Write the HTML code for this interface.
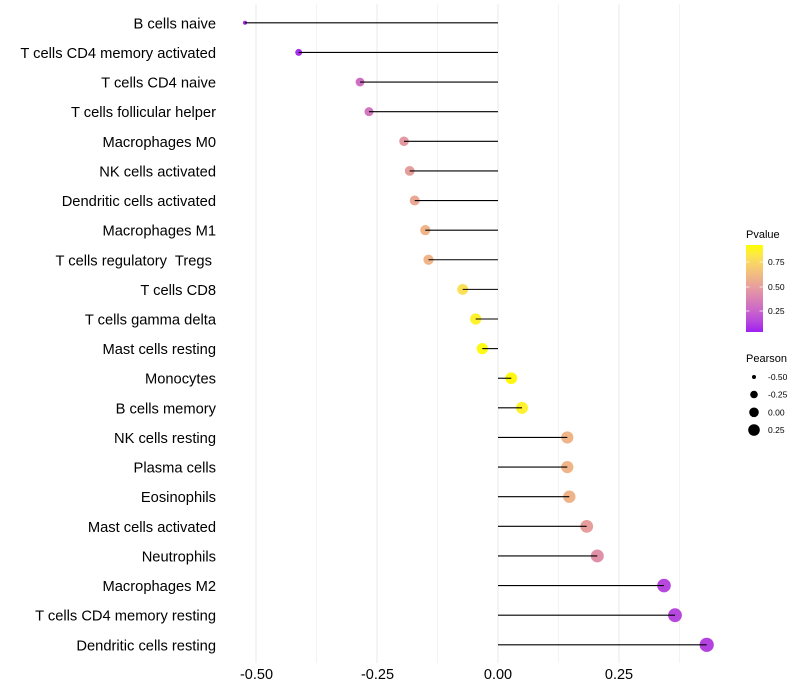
<!DOCTYPE html>
<html>
<head>
<meta charset="utf-8">
<style>
html,body{margin:0;padding:0;background:#fff;}
svg{display:block;}
text{font-family:"Liberation Sans",Arial,sans-serif;}
</style>
</head>
<body>
<svg width="800" height="700" viewBox="0 0 800 700" xmlns="http://www.w3.org/2000/svg">
<defs>
<linearGradient id="pg" x1="0" y1="1" x2="0" y2="0">
<stop offset="0" stop-color="#A020F0"/>
<stop offset="0.125" stop-color="#B748DD"/>
<stop offset="0.25" stop-color="#CA66C9"/>
<stop offset="0.375" stop-color="#D981B5"/>
<stop offset="0.5" stop-color="#E59BA0"/>
<stop offset="0.625" stop-color="#EFB489"/>
<stop offset="0.75" stop-color="#F6CD6F"/>
<stop offset="0.875" stop-color="#FDE54E"/>
<stop offset="1" stop-color="#FFFF00"/>
</linearGradient>
</defs>
<rect width="800" height="700" fill="#fff"/>
<!-- grid -->
<g stroke="#EBEBEB">
<line x1="316.5" y1="4" x2="316.5" y2="663" stroke-width="0.6"/>
<line x1="437.5" y1="4" x2="437.5" y2="663" stroke-width="0.6"/>
<line x1="558.5" y1="4" x2="558.5" y2="663" stroke-width="0.6"/>
<line x1="679.5" y1="4" x2="679.5" y2="663" stroke-width="0.6"/>
<line x1="256" y1="4" x2="256" y2="663" stroke-width="1.1"/>
<line x1="377" y1="4" x2="377" y2="663" stroke-width="1.1"/>
<line x1="498" y1="4" x2="498" y2="663" stroke-width="1.1"/>
<line x1="619" y1="4" x2="619" y2="663" stroke-width="1.1"/>
</g>
<!-- points -->
<g>
<circle cx="245" cy="22.8" r="2" fill="#A020F0"/>
<circle cx="298.7" cy="52.42" r="3.5" fill="#A92EE8"/>
<circle cx="360" cy="82.04" r="4.4" fill="#CF6FC2"/>
<circle cx="369" cy="111.66" r="4.5" fill="#D277BE"/>
<circle cx="404" cy="141.28" r="4.8" fill="#E398A2"/>
<circle cx="409.7" cy="170.9" r="4.9" fill="#E69E9C"/>
<circle cx="414.7" cy="200.52" r="5" fill="#EAA794"/>
<circle cx="425.3" cy="230.14" r="5.1" fill="#EFB589"/>
<circle cx="428.5" cy="259.76" r="5.1" fill="#EFB589"/>
<circle cx="462.7" cy="289.38" r="5.4" fill="#FBE055"/>
<circle cx="475.7" cy="319" r="5.6" fill="#FEF22E"/>
<circle cx="482.3" cy="348.62" r="5.6" fill="#FFFA14"/>
<circle cx="511.3" cy="378.24" r="5.9" fill="#FFF70E"/>
<circle cx="522" cy="407.86" r="6" fill="#FEF22E"/>
<circle cx="567.3" cy="437.48" r="6.1" fill="#EFB589"/>
<circle cx="567.3" cy="467.1" r="6.1" fill="#EFB589"/>
<circle cx="569.3" cy="496.72" r="6.2" fill="#EFB38A"/>
<circle cx="586.7" cy="526.34" r="6.4" fill="#E69E9C"/>
<circle cx="597.3" cy="555.96" r="6.5" fill="#E091A8"/>
<circle cx="664" cy="585.58" r="6.8" fill="#B748DD"/>
<circle cx="675" cy="615.2" r="6.9" fill="#B748DD"/>
<circle cx="706.7" cy="644.82" r="7.1" fill="#B342E0"/>
</g>
<!-- segments -->
<g stroke="#000" stroke-width="1.1">
<line x1="498" y1="22.8" x2="245" y2="22.8"/>
<line x1="498" y1="52.42" x2="298.7" y2="52.42"/>
<line x1="498" y1="82.04" x2="360" y2="82.04"/>
<line x1="498" y1="111.66" x2="369" y2="111.66"/>
<line x1="498" y1="141.28" x2="404" y2="141.28"/>
<line x1="498" y1="170.9" x2="409.7" y2="170.9"/>
<line x1="498" y1="200.52" x2="414.7" y2="200.52"/>
<line x1="498" y1="230.14" x2="425.3" y2="230.14"/>
<line x1="498" y1="259.76" x2="428.5" y2="259.76"/>
<line x1="498" y1="289.38" x2="462.7" y2="289.38"/>
<line x1="498" y1="319" x2="475.7" y2="319"/>
<line x1="498" y1="348.62" x2="482.3" y2="348.62"/>
<line x1="498" y1="378.24" x2="511.3" y2="378.24"/>
<line x1="498" y1="407.86" x2="522" y2="407.86"/>
<line x1="498" y1="437.48" x2="567.3" y2="437.48"/>
<line x1="498" y1="467.1" x2="567.3" y2="467.1"/>
<line x1="498" y1="496.72" x2="569.3" y2="496.72"/>
<line x1="498" y1="526.34" x2="586.7" y2="526.34"/>
<line x1="498" y1="555.96" x2="597.3" y2="555.96"/>
<line x1="498" y1="585.58" x2="664" y2="585.58"/>
<line x1="498" y1="615.2" x2="675" y2="615.2"/>
<line x1="498" y1="644.82" x2="706.7" y2="644.82"/>
</g>
<!-- y labels -->
<g font-size="14.7" text-anchor="end" fill="#000" style="white-space:pre">
<text x="216" y="28.3">B cells naive</text>
<text x="216" y="57.92">T cells CD4 memory activated</text>
<text x="216" y="87.54">T cells CD4 naive</text>
<text x="216" y="117.16">T cells follicular helper</text>
<text x="216" y="146.78">Macrophages M0</text>
<text x="216" y="176.4">NK cells activated</text>
<text x="216" y="206.02">Dendritic cells activated</text>
<text x="216" y="235.64">Macrophages M1</text>
<text x="216" y="265.26" xml:space="preserve">T cells regulatory  Tregs </text>
<text x="216" y="294.88">T cells CD8</text>
<text x="216" y="324.5">T cells gamma delta</text>
<text x="216" y="354.12">Mast cells resting</text>
<text x="216" y="383.74">Monocytes</text>
<text x="216" y="413.36">B cells memory</text>
<text x="216" y="442.98">NK cells resting</text>
<text x="216" y="472.6">Plasma cells</text>
<text x="216" y="502.22">Eosinophils</text>
<text x="216" y="531.84">Mast cells activated</text>
<text x="216" y="561.46">Neutrophils</text>
<text x="216" y="591.08">Macrophages M2</text>
<text x="216" y="620.7">T cells CD4 memory resting</text>
<text x="216" y="650.32">Dendritic cells resting</text>
</g>
<!-- x labels -->
<g font-size="14.5" text-anchor="middle" fill="#000">
<text x="256.5" y="679">-0.50</text>
<text x="377.5" y="679">-0.25</text>
<text x="498" y="679">0.00</text>
<text x="619" y="679">0.25</text>
</g>
<!-- legend Pvalue -->
<text x="746" y="238" font-size="11" fill="#000">Pvalue</text>
<rect x="746" y="245" width="17" height="87" fill="url(#pg)"/>
<g stroke="#fff" stroke-width="0.8" opacity="0.9">
<line x1="746" y1="262" x2="749.5" y2="262"/>
<line x1="759.5" y1="262" x2="763" y2="262"/>
<line x1="746" y1="287" x2="749.5" y2="287"/>
<line x1="759.5" y1="287" x2="763" y2="287"/>
<line x1="746" y1="311" x2="749.5" y2="311"/>
<line x1="759.5" y1="311" x2="763" y2="311"/>
</g>
<g font-size="8.5" fill="#000">
<text x="768" y="265">0.75</text>
<text x="768" y="290">0.50</text>
<text x="768" y="314">0.25</text>
</g>
<!-- legend Pearson -->
<text x="746" y="362" font-size="11" fill="#000">Pearson</text>
<g fill="#000">
<circle cx="754" cy="377" r="2"/>
<circle cx="754" cy="394.5" r="3.8"/>
<circle cx="754" cy="412.3" r="4.8"/>
<circle cx="754" cy="430" r="5.8"/>
</g>
<g font-size="8.5" fill="#000">
<text x="768" y="380">-0.50</text>
<text x="768" y="397.5">-0.25</text>
<text x="768" y="415.3">0.00</text>
<text x="768" y="433">0.25</text>
</g>
</svg>
</body>
</html>
